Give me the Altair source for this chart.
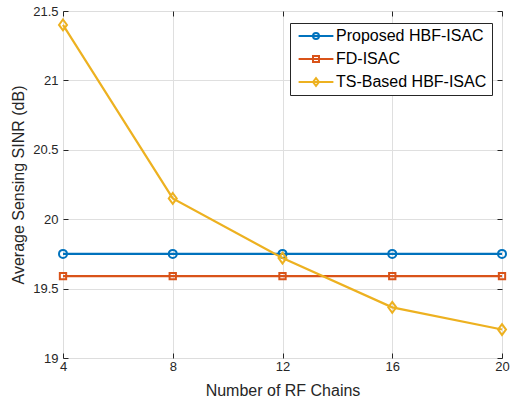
import altair as alt
import pandas as pd

rf_chains = [4, 8, 12, 16, 20]
proposed_hbf = [19.75, 19.75, 19.75, 19.75, 19.75]
fd_isac = [19.59, 19.59, 19.59, 19.59, 19.59]
ts_based = [21.40, 20.15, 19.72, 19.365, 19.205]

series_names = ["Proposed HBF-ISAC", "FD-ISAC", "TS-Based HBF-ISAC"]
series_colors = ["#0072BD", "#D95319", "#EDB120"]
x_ticks = [4, 8, 12, 16, 20]
y_ticks = [19, 19.5, 20, 20.5, 21, 21.5]
x_inner = [8, 12, 16]
y_inner = [19.5, 20, 20.5, 21]

rows = []
for name, vals in zip(series_names, [proposed_hbf, fd_isac, ts_based]):
    for xv, yv in zip(rf_chains, vals):
        rows.append({"x": xv, "y": yv, "series": name})
df = pd.DataFrame(rows)

FONT = "Liberation Sans"
TXT = "#262626"

xs = alt.Scale(domain=[4, 20], nice=False, zero=False)
ys = alt.Scale(domain=[19, 21.5], nice=False, zero=False)
cscale = alt.Scale(domain=series_names, range=series_colors)

circle_path = "M1,0 A1,1 0 1,1 -1,0 A1,1 0 1,1 1,0 Z"
square_path = "M-1,-1 L1,-1 L1,1 L-1,1 Z"
diamond_path = "M0,-1.35 L1,0 L0,1.35 L-1,0 Z"
marker_paths = [circle_path, square_path, diamond_path]
marker_sizes = [64, 40, 64]
L = 5.8
leg_paths = [
    f"M-{L},0 L{L},0 M1,0 A1,1 0 1,1 -1,0 A1,1 0 1,1 1,0 Z",
    f"M-{L},0 L{L},0 M-1,-1 L1,-1 L1,1 L-1,1 Z",
    f"M-{L},0 L{L},0 M0,-1.3 L1,0 L0,1.3 L-1,0 Z",
]
sscale = alt.Scale(domain=series_names, range=leg_paths)

main_x = alt.Axis(values=x_ticks, format="d", grid=False, ticks=False, tickSize=0, domain=False,
                  labelFlush=False, labelFont=FONT, labelFontSize=13, labelColor=TXT, labelPadding=2,
                  title="Number of RF Chains", titleFont=FONT, titleFontSize=16,
                  titleFontWeight="normal", titleColor=TXT, titlePadding=9)
main_y = alt.Axis(values=y_ticks, format="~g", grid=False, ticks=False, tickSize=0, domain=False,
                  labelFlush=False, labelFont=FONT, labelFontSize=13, labelColor=TXT, labelPadding=5,
                  title="Average Sensing SINR (dB)", titleFont=FONT, titleFontSize=16,
                  titleFontWeight="normal", titleColor=TXT, titlePadding=6)


def grid_axis(vals):
    return alt.Axis(values=vals, grid=True, gridColor="#dfdfdf", gridWidth=1, labels=False,
                    ticks=False, domain=False, title=None)


def tick_axis(vals, orient):
    return alt.Axis(values=vals, orient=orient, offset=-5, grid=False, labels=False, ticks=True,
                    tickSize=5, tickColor=TXT, tickWidth=1, domain=False, title=None)


axes_plan = [
    (main_x, main_y),
    (grid_axis(x_inner), grid_axis(y_inner)),
    (tick_axis(x_ticks, "bottom"), tick_axis(y_ticks, "left")),
    (tick_axis(x_ticks, "top"), tick_axis(y_ticks, "right")),
    (None, None),
    (None, None),
]

layers = []
k = 0
for i, name in enumerate(series_names):
    col = series_colors[i]
    ax_l = axes_plan[k]; k += 1
    ax_p = axes_plan[k]; k += 1
    line = alt.Chart().transform_filter(alt.datum.series == name).mark_line(
        strokeWidth=2.2, color=col
    ).encode(
        x=alt.X("x:Q", scale=xs, axis=ax_l[0]),
        y=alt.Y("y:Q", scale=ys, axis=ax_l[1]),
    )
    pts = alt.Chart().transform_filter(alt.datum.series == name).mark_point(
        shape=marker_paths[i], size=marker_sizes[i], filled=False, strokeWidth=2,
        opacity=1, color=col
    ).encode(
        x=alt.X("x:Q", scale=xs, axis=ax_p[0]),
        y=alt.Y("y:Q", scale=ys, axis=ax_p[1]),
    )
    layers += [line, pts]

leg = alt.Legend(title=None, orient="none", legendX=227, legendY=12, padding=5,
                 strokeColor=TXT, fillColor="white", labelFont=FONT, labelFontSize=16,
                 labelColor="#000000", labelLimit=300, symbolSize=36, symbolStrokeWidth=2,
                 symbolOffset=13, labelOffset=12, rowPadding=7)

legend_layer = alt.Chart().transform_calculate(yhide="0").mark_point(
    filled=False, size=36, strokeWidth=2, opacity=1, clip=True
).encode(
    x=alt.X("x:Q", scale=xs, axis=None),
    y=alt.Y("yhide:Q", scale=ys, axis=None),
    color=alt.Color("series:N", scale=cscale, legend=leg),
    shape=alt.Shape("series:N", scale=sscale, legend=leg),
)
layers.append(legend_layer)

chart = alt.layer(*layers, data=df).resolve_axis(
    x="independent", y="independent"
).properties(
    width=439, height=347,
    autosize=alt.AutoSizeParams(type="none"),
    padding={"left": 63, "top": 11, "right": 8, "bottom": 44},
).configure_view(stroke=TXT, strokeWidth=1).configure(background="white")

chart.save("out.html", embed_options={"renderer": "svg", "actions": False})
